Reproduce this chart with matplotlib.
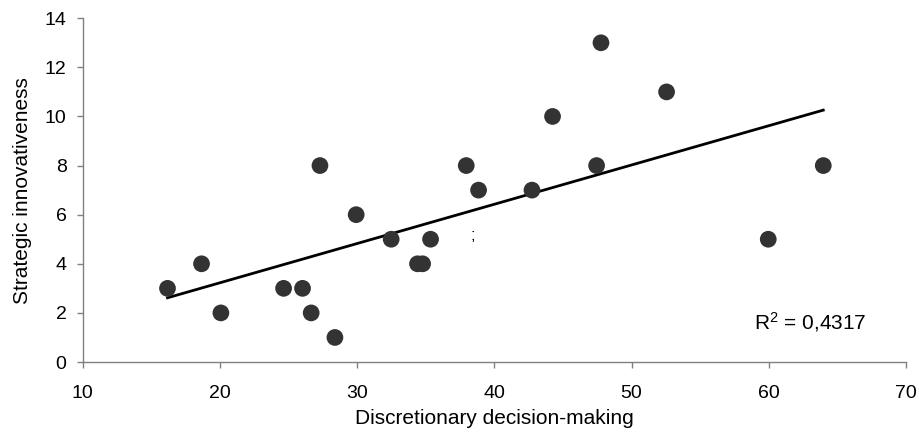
import numpy as np
import matplotlib
matplotlib.use("Agg")
import matplotlib.pyplot as plt

plt.rcParams['font.family'] = ['Liberation Sans', 'DejaVu Sans']
plt.rcParams['mathtext.fontset'] = 'custom'
plt.rcParams['mathtext.rm'] = 'Liberation Sans'
plt.rcParams['mathtext.it'] = 'Liberation Sans:italic'
plt.rcParams['mathtext.bf'] = 'Liberation Sans:bold'

# Data
discretionary = [16.18, 18.66, 20.07, 24.64, 26.02, 26.65, 27.29, 28.38, 29.93, 32.48,
                 34.40, 34.77, 35.35, 37.95, 38.85, 42.74, 44.24, 47.45, 47.77, 52.55,
                 59.96, 63.97]
innovativeness = [3, 4, 2, 3, 3, 2, 8, 1, 6, 5,
                  4, 4, 5, 8, 7, 7, 10, 8, 13, 11,
                  5, 8]
x_ticks = [10, 20, 30, 40, 50, 60, 70]
y_ticks = [0, 2, 4, 6, 8, 10, 12, 14]
r2_label = r"R$\mathregular{^2}$ = 0,4317"

x = np.array(discretionary)
y = np.array(innovativeness)

fig = plt.figure(figsize=(9.2, 4.32), dpi=100)
ax = fig.add_axes([0.0899, 0.162, 0.8949, 0.7958])

ax.scatter(x, y, s=145, color='#333333', edgecolors='none', zorder=3)

slope, intercept = np.polyfit(x, y, 1)
xl = np.array([x.min(), x.max()])
ax.plot(xl, slope * xl + intercept, color='black', lw=2.0, zorder=2)

ax.set_xlim(10, 70)
ax.set_ylim(0, 14)
ax.set_xticks(x_ticks)
ax.set_yticks(y_ticks)
ax.tick_params(axis='both', labelsize=14, width=1, color='#808080', direction='out')
ax.tick_params(axis='x', length=4.5, pad=12)
ax.tick_params(axis='y', length=4, pad=7.6)

for side in ['top', 'right']:
    ax.spines[side].set_visible(False)
for side in ['left', 'bottom']:
    ax.spines[side].set_color('#808080')
    ax.spines[side].set_linewidth(1)

ax.set_xlabel('Discretionary decision-making', fontsize=15)
ax.set_ylabel('Strategic innovativeness', fontsize=15)
ax.xaxis.set_label_coords(0.5, -0.136)
ax.yaxis.set_label_coords(-0.062, 0.5)

ax.text(58.94, 1.33, r2_label, fontsize=15, ha='left', va='baseline')
ax.text(38.41, 5.17, ';', fontsize=12, ha='center', va='center')

fig.savefig('out.png', dpi=100)
